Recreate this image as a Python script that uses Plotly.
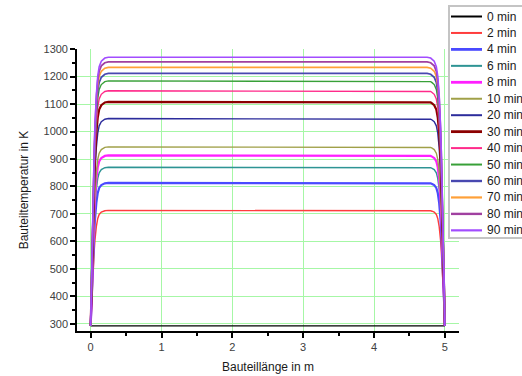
import plotly.graph_objects as go

# Heating times and plateau temperatures of the component (K)
times = ["0 min", "2 min", "4 min", "6 min", "8 min", "10 min", "20 min",
         "30 min", "40 min", "50 min", "60 min", "70 min", "80 min", "90 min"]
plateau_K = [293, 713, 813, 870, 913, 944, 1047, 1108, 1148, 1184, 1211, 1233, 1253, 1270]
ambient_K = 293
length_m = 5.0

# Temperature rise near each end: distance from the end (m) vs. share of the full rise
edge_dist = [0.0, 0.01, 0.02, 0.03, 0.04, 0.05, 0.06, 0.07, 0.08, 0.10,
             0.12, 0.15, 0.18, 0.20, 0.25, 0.30]
edge_frac = [0.0, 0.16, 0.30, 0.43, 0.55, 0.65, 0.74, 0.81, 0.86, 0.93,
             0.965, 0.985, 0.993, 0.997, 1.0, 1.0]

colors = ["#000000", "#ff3c3c", "#4a4aff", "#2e9494", "#ff20ff", "#a0a048", "#2c2c9c",
          "#8c0000", "#ff2a8a", "#38a038", "#4848b0", "#ffa038", "#a040a0", "#a24cff"]
widths = [1.4, 1.4, 2.2, 1.4, 2.2, 1.4, 1.4, 2.2, 1.4, 1.4, 1.8, 1.6, 1.8, 1.6]

# Position along the component: left end, middle, right end
x_left = edge_dist
x_right = [length_m - d for d in reversed(edge_dist)]
xs = x_left + x_right
frac = edge_frac + list(reversed(edge_frac))

fig = go.Figure()
for name, T, c, w in zip(times, plateau_K, colors, widths):
    ys = [ambient_K + (T - ambient_K) * f for f in frac]
    fig.add_trace(go.Scatter(x=xs, y=ys, mode="lines", name=name,
                             line=dict(color=c, width=w), showlegend=False))

# Plot area in pixels (for the boxed legend at the upper right)
W, H = 522, 376
ml, mr, mt, mb = 77, 63, 49, 45
pw, ph = W - ml - mr, H - mt - mb


def px(xp):
    return (xp - ml) / pw


def py(yp):
    return (H - mb - yp) / ph


shapes = [dict(type="rect", xref="paper", yref="paper",
               x0=px(449), x1=px(540), y0=py(6), y1=py(238),
               fillcolor="white", line=dict(color="#c4c4c4", width=2), layer="above")]
annotations = []
row0, step = 16.5, 16.45
for i, (name, c, w) in enumerate(zip(times, colors, widths)):
    yy = row0 + i * step
    shapes.append(dict(type="line", xref="paper", yref="paper",
                       x0=px(451), x1=px(482), y0=py(yy), y1=py(yy),
                       line=dict(color=c, width=w + 0.6), layer="above"))
    annotations.append(dict(xref="paper", yref="paper", x=px(485), y=py(yy),
                            text=name, showarrow=False, xanchor="left", yanchor="middle",
                            font=dict(family="Liberation Sans, Arial", size=12, color="#1a1a1a")))

axis_common = dict(
    showline=True, linecolor="black", linewidth=1.6, mirror=False,
    ticks="outside", ticklen=5, tickwidth=1.5, tickcolor="black",
    showgrid=True, gridcolor="#a6f7a6", gridwidth=1.3, zeroline=False,
    tickfont=dict(family="Liberation Sans, Arial", size=11, color="#404040"),
)

fig.update_layout(
    width=W, height=H,
    margin=dict(l=ml, r=mr, t=mt, b=mb, autoexpand=False),
    paper_bgcolor="white", plot_bgcolor="white",
    showlegend=False,
    shapes=shapes, annotations=annotations,
    xaxis=dict(**axis_common, range=[-0.193, 5.2], dtick=1, tick0=0,
               minor=dict(ticks="outside", ticklen=3, tickwidth=1.5, tickcolor="black",
                          dtick=0.5, tick0=0, showgrid=False),
               title=dict(text="Bauteillänge in m", standoff=11,
                          font=dict(family="Liberation Sans, Arial", size=12, color="#1a1a1a"))),
    yaxis=dict(**axis_common, range=[274.5, 1300], dtick=100, tick0=300,
               minor=dict(ticks="outside", ticklen=3, tickwidth=1.5, tickcolor="black",
                          dtick=50, tick0=300, showgrid=False),
               title=dict(text="Bauteiltemperatur in K", standoff=12,
                          font=dict(family="Liberation Sans, Arial", size=12, color="#1a1a1a"))),
)

fig.write_html("out.html")
